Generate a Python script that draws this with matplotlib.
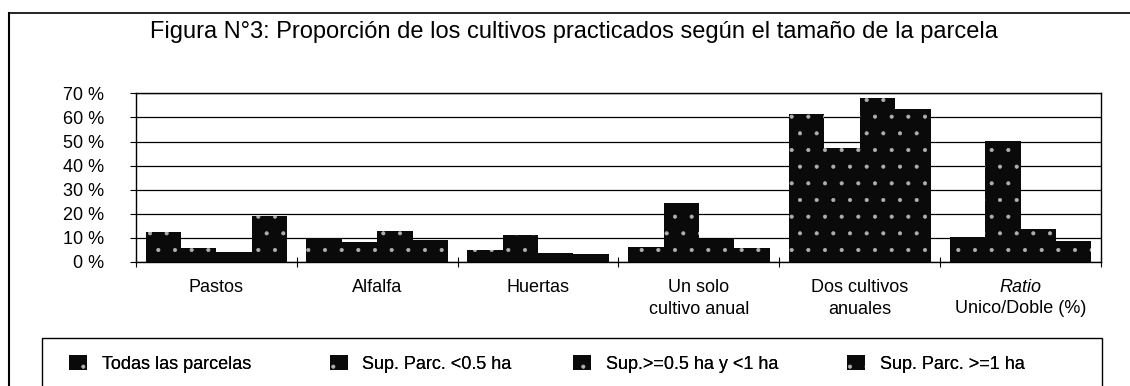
import numpy as np
import matplotlib.pyplot as plt
from matplotlib.patches import Rectangle
from matplotlib.lines import Line2D

plt.rcParams['font.family'] = ['Liberation Sans', 'DejaVu Sans']
plt.rcParams['hatch.color'] = '#b0b0b0'
plt.rcParams['hatch.linewidth'] = 0.5

# data (percent)
categories = ["Pastos", "Alfalfa", "Huertas", "Un solo\ncultivo anual",
              "Dos cultivos\nanuales", "Ratio\nUnico/Doble (%)"]
series_names = ["Todas las parcelas", "Sup. Parc. <0.5 ha",
                "Sup.>=0.5 ha y <1 ha", "Sup. Parc. >=1 ha"]
todas = [12.5, 10.1, 5.0, 6.4, 61.3, 10.5]
menor_05 = [5.9, 8.4, 11.2, 24.3, 47.4, 50.2]
entre_05_1 = [4.3, 13.0, 3.9, 9.4, 68.2, 13.5]
mayor_1 = [19.2, 9.1, 3.4, 5.7, 63.4, 8.6]
yticks = [0, 10, 20, 30, 40, 50, 60, 70]

W, H = 1130, 386
FS = 13
fig = plt.figure(figsize=(W / 100, H / 100), dpi=100)
ax = fig.add_axes([136 / W, 1 - 262 / H, (1101 - 136) / W, (262 - 93.3) / H])

series = [todas, menor_05, entre_05_1, mayor_1]
x = np.arange(len(categories))
bw = 0.22
handles = []
for i, vals in enumerate(series):
    b = ax.bar(x + (i - 1.5) * bw, vals, width=bw, color='#0a0a0a',
               linewidth=0, hatch='.', zorder=3, label=series_names[i])
    handles.append(b)

ax.set_xlim(-0.5, len(categories) - 0.5)
ax.set_ylim(0, 70)
ax.set_yticks(yticks)
ax.set_yticklabels([f"{v} %" for v in yticks], fontsize=FS)
ax.tick_params(axis='y', length=4, width=0.8, pad=19)

ax.yaxis.grid(True, color='black', linewidth=0.9, zorder=0)
ax.set_axisbelow(True)

# group boundary ticks (major) and category labels (minor)
ax.set_xticks(np.arange(len(categories) + 1) - 0.5)
ax.set_xticklabels([])
ax.tick_params(axis='x', which='major', direction='inout', length=7, width=0.8)
ax.set_xticks(x, minor=True)
first, second = categories[-1].split("\n")
labels = categories[:-1] + [first]
ax.set_xticklabels(labels, minor=True, fontsize=FS, linespacing=1.4)
ax.get_xticklabels(minor=True)[-1].set_style('italic')
ax.tick_params(axis='x', which='minor', length=0, pad=12)
ax.annotate(second, xy=(x[-1], 0), xycoords=('data', 'axes fraction'),
            xytext=(0, -27.5), textcoords='offset points',
            ha='center', va='top', fontsize=FS)

for s in ax.spines.values():
    s.set_linewidth(1.0)
    s.set_color('black')

fig.text(574 / W, 1 - 32 / H,
         "Figura N°3: Proporción de los cultivos practicados según el tamaño de la parcela",
         ha='center', va='center', fontsize=17)

# outer frame (top and left edges)
fig.add_artist(Line2D([8.5 / W, 1.0], [1 - 12.5 / H, 1 - 12.5 / H], color='black', lw=1.2))
fig.add_artist(Line2D([8.5 / W, 8.5 / W], [1 - 12.5 / H, 0], color='black', lw=1.5))

# legend box
fig.add_artist(Rectangle((41.5 / W, -0.05), (1102 - 41.5) / W, 0.05 + (1 - 338 / H),
                         transform=fig.transFigure, fill=False, edgecolor='black', lw=1.0))
leg_x = [69, 330, 573, 847]
for h, name, lx in zip(handles, series_names, leg_x):
    leg = fig.legend([h], [name], loc='center left', bbox_to_anchor=(lx / W, 1 - 364 / H),
                     frameon=False, fontsize=FS, handlelength=1.0, handleheight=0.85,
                     handletextpad=0.8, borderaxespad=0, borderpad=0)
    fig.add_artist(leg)

fig.savefig("out.png", dpi=100)
